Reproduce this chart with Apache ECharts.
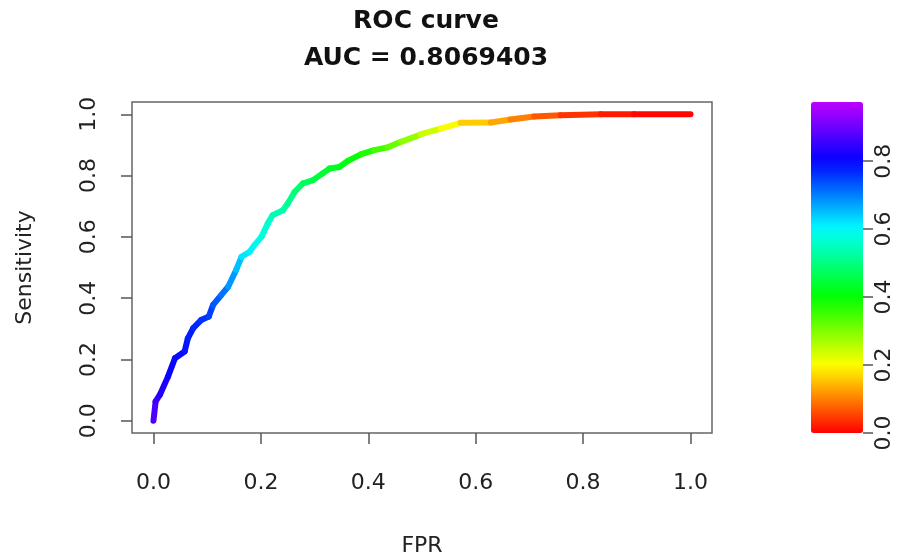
<!DOCTYPE html>
<html>
<head>
<meta charset="utf-8">
<script src="https://cdn.jsdelivr.net/npm/echarts@6/dist/echarts.min.js"></script>
<style>
  html, body { margin: 0; padding: 0; background: #fff; }
  #roc { width: 923px; height: 556px; }
</style>
</head>
<body>
<div id="roc"></div>
<script>
var myChart = echarts.init(document.getElementById('roc'));

// points: false positive rate, sensitivity, cutoff
var fpr = [0, 0.004, 0.012, 0.027, 0.040, 0.058, 0.064, 0.074, 0.089, 0.103,
  0.111, 0.126, 0.139, 0.154, 0.164, 0.179, 0.188, 0.201, 0.213, 0.222,
  0.241, 0.250, 0.263, 0.278, 0.297, 0.315, 0.328, 0.346, 0.362, 0.387,
  0.411, 0.436, 0.461, 0.486, 0.498, 0.535, 0.572, 0.628, 0.665, 0.709,
  0.758, 0.833, 0.895, 1.000];
var tpr = [0, 0.063, 0.085, 0.144, 0.204, 0.226, 0.269, 0.302, 0.329, 0.340,
  0.378, 0.410, 0.437, 0.492, 0.535, 0.551, 0.573, 0.600, 0.644, 0.671,
  0.687, 0.709, 0.747, 0.774, 0.785, 0.807, 0.823, 0.828, 0.848, 0.870,
  0.883, 0.892, 0.910, 0.926, 0.935, 0.953, 0.972, 0.973, 0.983, 0.993,
  0.997, 1.000, 1.000, 1.000];
var cutoff = [0.92, 0.87, 0.85, 0.83, 0.81, 0.80, 0.79, 0.78, 0.77, 0.76,
  0.75, 0.73, 0.71, 0.68, 0.65, 0.62, 0.61, 0.59, 0.57, 0.56,
  0.54, 0.53, 0.51, 0.49, 0.47, 0.45, 0.44, 0.43, 0.42, 0.40,
  0.38, 0.35, 0.32, 0.29, 0.28, 0.24, 0.20, 0.16, 0.13, 0.10,
  0.07, 0.04, 0.02, 0.005];
var axisTicks = [0, 0.2, 0.4, 0.6, 0.8, 1.0];
var barTicks = [0, 0.2, 0.4, 0.6, 0.8];
var cutoffMax = 0.974;

// rainbow palette: red at 0, blue at 0.8, violet at the top cutoff
function hueHex(h) {
  var f = function (n) {
    var k = (n + h / 60) % 6;
    var v = 1 - Math.max(0, Math.min(k, 4 - k, 1));
    var s = Math.round(v * 255).toString(16);
    return s.length < 2 ? '0' + s : s;
  };
  return '#' + f(5) + f(3) + f(1);
}
function hueAt(v) {
  return v <= 0.8 ? v * 300 : 240 + (v - 0.8) / (cutoffMax - 0.8) * 45;
}
var palette = [];
for (var i = 0; i <= 24; i++) {
  palette.push(hueHex(hueAt(cutoffMax * i / 24)));
}

var rocData = fpr.map(function (x, i) { return [x, tpr[i], cutoff[i]]; });

var textColor = '#222';
var font = 'DejaVu Sans';
var tickLine = {color: '#555', width: 1.5};
var fmt = function (v) { return v.toFixed(1); };

var option = {
  animation: false,
  title: {
    text: 'ROC curve\nAUC = 0.8069403',
    left: 421,
    top: -2,
    textAlign: 'center',
    textStyle: {
      fontFamily: font, fontWeight: 'bold', fontSize: 25,
      lineHeight: 37, color: '#111'
    }
  },
  grid: [
    {left: 132, top: 102, width: 580, height: 331, show: true,
      outerBoundsMode: 'none',
      borderColor: '#666', borderWidth: 1.5, backgroundColor: 'transparent'},
    {left: 811, top: 102, width: 52, height: 331, outerBoundsMode: 'none'}
  ],
  xAxis: [
    {
      gridIndex: 0, type: 'value', min: -0.04, max: 1.04,
      name: 'FPR', nameLocation: 'middle', nameGap: 102,
      nameTextStyle: {fontFamily: font, fontSize: 22, color: textColor},
      axisLine: {show: false, onZero: false},
      axisTick: {show: true, length: 11, lineStyle: tickLine, customValues: axisTicks},
      axisLabel: {fontFamily: font, fontSize: 22, color: textColor, margin: 39,
        customValues: axisTicks, formatter: fmt},
      splitLine: {show: false}
    },
    {gridIndex: 1, type: 'value', min: 0, max: 1, show: false}
  ],
  yAxis: [
    {
      gridIndex: 0, type: 'value', min: -0.04, max: 1.04,
      name: 'Sensitivity', nameLocation: 'middle', nameGap: 96,
      nameTextStyle: {fontFamily: font, fontSize: 22, color: textColor},
      axisLine: {show: false, onZero: false},
      axisTick: {show: true, length: 11, lineStyle: tickLine, customValues: axisTicks},
      axisLabel: {fontFamily: font, fontSize: 22, color: textColor, margin: 32,
        rotate: 90, customValues: axisTicks, formatter: fmt},
      splitLine: {show: false}
    },
    {
      gridIndex: 1, type: 'value', min: 0, max: cutoffMax, position: 'right',
      axisLine: {show: false, onZero: false},
      axisTick: {show: true, length: 10, lineStyle: tickLine, customValues: barTicks},
      axisLabel: {fontFamily: font, fontSize: 22, color: textColor, margin: 10,
        rotate: 90, customValues: barTicks, formatter: fmt},
      splitLine: {show: false}
    }
  ],
  visualMap: {
    type: 'continuous',
    min: 0,
    max: cutoffMax,
    dimension: 2,
    seriesIndex: 0,
    left: 811,
    top: 102,
    padding: 0,
    itemWidth: 52,
    itemHeight: 331,
    text: ['', ''],
    textGap: 0,
    calculable: false,
    hoverLink: false,
    inRange: {color: palette}
  },
  series: [
    {
      type: 'custom',
      xAxisIndex: 0,
      yAxisIndex: 0,
      data: rocData,
      renderItem: function (params, api) {
        var i = params.dataIndex;
        var prev = i > 0 ? i - 1 : 0;
        var p0 = api.coord([fpr[prev], tpr[prev]]);
        var p1 = api.coord([api.value(0), api.value(1)]);
        return {
          type: 'polyline',
          shape: {points: [p0, p1]},
          style: {stroke: api.visual('color'), lineWidth: 6, lineCap: 'round',
            lineJoin: 'round', fill: null}
        };
      }
    }
  ]
};

myChart.setOption(option);
</script>
</body>
</html>
